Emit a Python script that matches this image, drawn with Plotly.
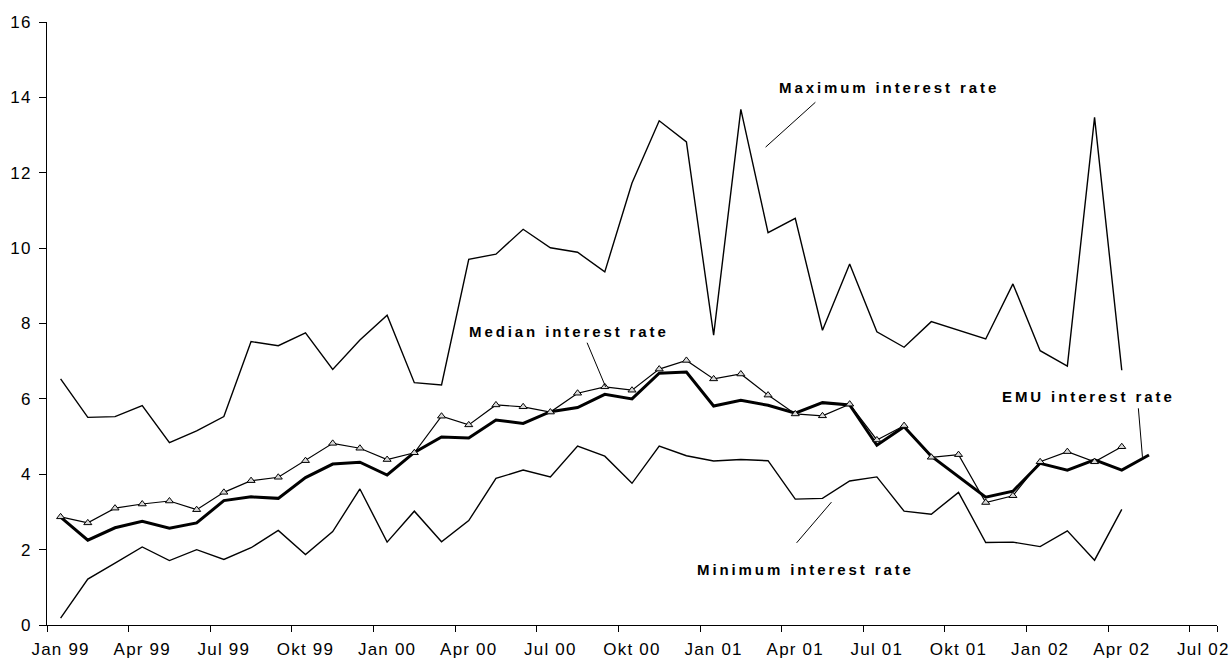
import plotly.graph_objects as go

month_names = ["Jan", "Feb", "Mär", "Apr", "Mai", "Jun", "Jul", "Aug", "Sep", "Okt", "Nov", "Dez"]
years = ["99", "00", "01", "02"]
months = [f"{m} {y}" for y in years for m in month_names][:43]  # Jan 99 .. Jul 02

max_rate = [6.53, 5.51, 5.53, 5.82, 4.84, 5.15, 5.53, 7.52, 7.41, 7.75, 6.78, 7.56,
            8.22, 6.43, 6.37, 9.70, 9.84, 10.50, 10.01, 9.89, 9.37, 11.73, 13.38, 12.82,
            7.69, 13.68, 10.41, 10.79, 7.82, 9.58, 7.78, 7.37, 8.05, 7.82, 7.59, 9.05,
            7.28, 6.87, 13.47, 6.76]
min_rate = [0.18, 1.22, 1.64, 2.07, 1.71, 2.00, 1.74, 2.05, 2.51, 1.87, 2.48, 3.61,
            2.20, 3.02, 2.21, 2.77, 3.89, 4.11, 3.93, 4.75, 4.48, 3.76, 4.75, 4.49,
            4.35, 4.39, 4.36, 3.34, 3.36, 3.82, 3.93, 3.02, 2.94, 3.52, 2.19, 2.20,
            2.08, 2.50, 1.72, 3.07]
median_rate = [2.87, 2.71, 3.10, 3.21, 3.29, 3.06, 3.52, 3.83, 3.92, 4.36, 4.82, 4.69,
               4.39, 4.57, 5.54, 5.31, 5.84, 5.79, 5.65, 6.15, 6.32, 6.23, 6.79, 7.02,
               6.53, 6.66, 6.10, 5.60, 5.55, 5.86, 4.91, 5.29, 4.45, 4.52, 3.25, 3.43,
               4.33, 4.60, 4.33, 4.73]
emu_rate = [2.86, 2.25, 2.58, 2.75, 2.57, 2.71, 3.30, 3.40, 3.36, 3.91, 4.27, 4.32,
            3.98, 4.58, 4.99, 4.96, 5.44, 5.35, 5.66, 5.77, 6.12, 6.00, 6.68, 6.71,
            5.81, 5.96, 5.83, 5.62, 5.90, 5.84, 4.77, 5.26, 4.48, 3.93, 3.39, 3.55,
            4.29, 4.11, 4.38, 4.11, 4.51]

y_ticks = [0, 2, 4, 6, 8, 10, 12, 14, 16]
x_tick_labels = months[::3]

labels = ["Maximum interest rate", "Median interest rate", "Minimum interest rate", "EMU interest rate"]

FONT = "Liberation Sans, Arial, sans-serif"


def spaced(t, px):
    return f'<span style="letter-spacing:{px}px">{t}</span>'


fig = go.Figure()
fig.add_trace(go.Scatter(x=months[:len(max_rate)], y=max_rate, mode="lines",
                         line=dict(color="black", width=1.4), name=labels[0]))
fig.add_trace(go.Scatter(x=months[:len(min_rate)], y=min_rate, mode="lines",
                         line=dict(color="black", width=1.4), name=labels[2]))
fig.add_trace(go.Scatter(x=months[:len(emu_rate)], y=emu_rate, mode="lines",
                         line=dict(color="black", width=3), name=labels[3]))
fig.add_trace(go.Scatter(x=months[:len(median_rate)], y=median_rate, mode="lines+markers",
                         line=dict(color="black", width=1.2),
                         marker=dict(symbol="triangle-up", size=7, color="#d8d8d8",
                                     line=dict(color="black", width=1)),
                         name=labels[1]))

# annotations: (text, text_x, text_y, line_x0, line_y0, line_x1, line_y1) in data units
notes = [
    (labels[0], 30.43, 14.27, 27.74, 13.87, 25.91, 12.68),
    (labels[1], 18.67, 7.80, 19.35, 7.49, 20.03, 6.32),
    (labels[2], 27.38, 1.46, 27.05, 2.18, 28.33, 3.26),
    (labels[3], 37.78, 6.07, 39.61, 5.75, 39.76, 4.46),
]
for text, tx, ty, x0, y0, x1, y1 in notes:
    fig.add_annotation(x=tx, y=ty, xref="x", yref="y", text="<b>" + spaced(text, 2.9) + "</b>",
                       showarrow=False, font=dict(family=FONT, size=15, color="black"))
    fig.add_shape(type="line", xref="x", yref="y", x0=x0, y0=y0, x1=x1, y1=y1,
                  line=dict(color="black", width=1))

fig.update_layout(
    width=1231, height=658,
    margin=dict(l=47, r=14, t=22, b=33, autoexpand=False),
    paper_bgcolor="white", plot_bgcolor="white",
    showlegend=False,
    font=dict(family=FONT, size=17, color="black"),
)
fig.update_xaxes(
    type="category", categoryorder="array", categoryarray=months,
    range=[-0.5, 42.5], automargin=False, tickangle=0,
    tickmode="array", tickvals=x_tick_labels,
    ticktext=[spaced(t, 1.2) for t in x_tick_labels],
    tickson="boundaries", ticks="outside", ticklen=6, tickcolor="black", tickwidth=1,
    showline=True, linecolor="black", linewidth=1, showgrid=False, zeroline=False,
    tickfont=dict(family=FONT, size=17, color="black"), ticklabelstandoff=9,
)
fig.update_yaxes(
    range=[0, 16], tickmode="array", tickvals=y_ticks, automargin=False,
    ticktext=[spaced(str(v), 1.2) for v in y_ticks],
    ticks="outside", ticklen=7, tickcolor="black", tickwidth=1,
    showline=True, linecolor="black", linewidth=1, showgrid=False, zeroline=False,
    tickfont=dict(family=FONT, size=17, color="black"), ticklabelstandoff=4,
)

fig.write_html("out.html", config={"displayModeBar": False},
               post_script="document.body.style.margin='0';")
